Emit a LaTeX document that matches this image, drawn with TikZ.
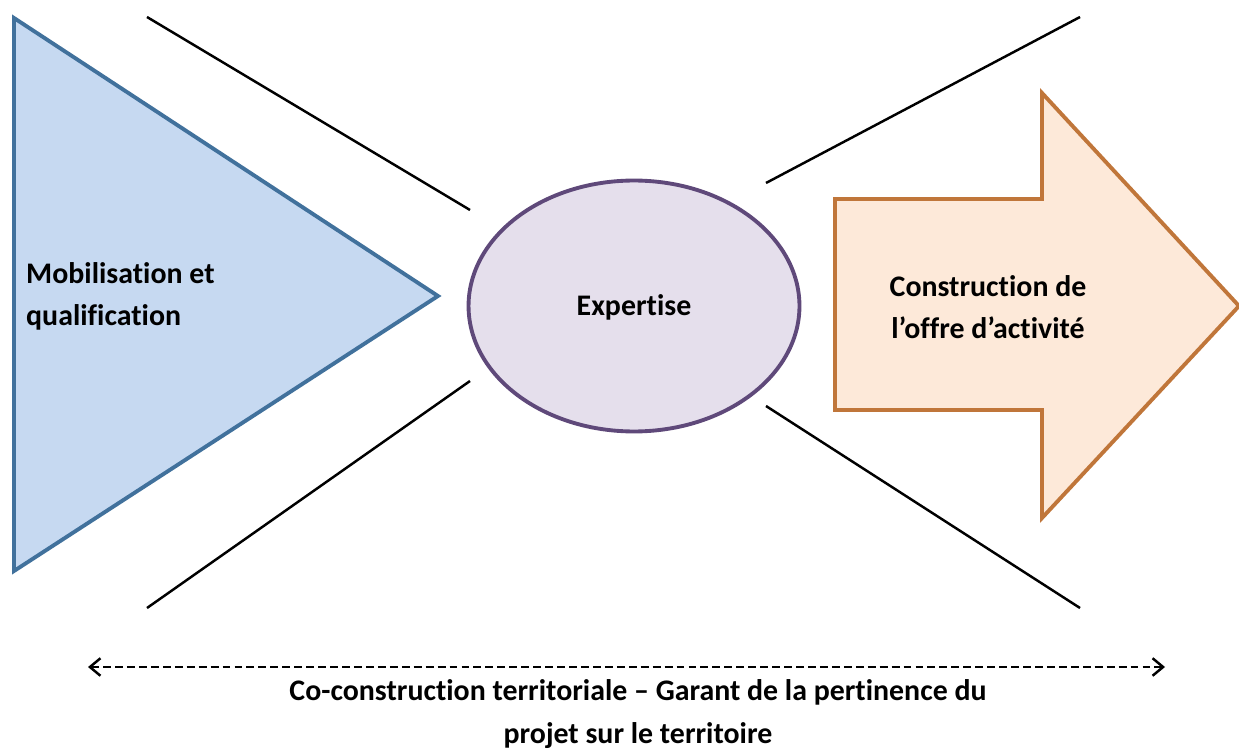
\documentclass[tikz,border=0pt]{standalone}
\usepackage{fontspec}
\setmainfont[Ligatures=NoCommon]{Carlito}
\usetikzlibrary{positioning,arrows.meta}
\definecolor{trifill}{HTML}{C6D9F1}
\definecolor{triedge}{HTML}{41719C}
\definecolor{ellfill}{HTML}{E5DFEC}
\definecolor{elledge}{HTML}{5F497A}
\definecolor{arrfill}{HTML}{FDE9D9}
\definecolor{arredge}{HTML}{C0763A}
\tikzset{
  label text/.style={font=\fontsize{17}{24}\selectfont\bfseries},
  shape line/.style={line width=2.2pt, line join=miter},
  funnel/.style={line width=1.4pt}
}
\begin{document}
\begin{tikzpicture}[x=0.02cm,y=-0.02cm]
        \useasboundingbox (0,0) rectangle (1239,749);
        \draw[shape line, draw=triedge, fill=trifill] (14,18) -- (438,296) -- (14,571) -- cycle;
        \draw[shape line, draw=elledge, fill=ellfill] (634,306) ellipse [x radius=3.31cm, y radius=2.51cm];
        \draw[shape line, draw=arredge, fill=arrfill] (835,199) -- (1042,199) -- (1042,93) -- (1239,306)
          -- (1042,518) -- (1042,410) -- (835,410) -- cycle;
        \coordinate (ulA) at (147,17);
        \coordinate (ulB) at (470,210);
        \coordinate (llA) at (147,608);
        \coordinate (llB) at (470,381);
        \coordinate (urA) at (766,183);
        \coordinate (urB) at (1080,17);
        \coordinate (lrA) at (766,406);
        \coordinate (lrB) at (1080,608);
        \draw[funnel] (ulA) -- (ulB);
        \draw[funnel] (llA) -- (llB);
        \draw[funnel] (urA) -- (urB);
        \draw[funnel] (lrA) -- (lrB);
        \node[label text, align=left, anchor=west] at (20,296) (mobil) {Mobilisation et\\qualification};
        \node[label text] at (634,307) (expert) {Expertise};
        \node[label text, align=center] at (988,307) (offre) {Construction de\\l’offre d’activité};
        \coordinate (gauche) at (88,667);
        \coordinate (droite) at (1165,667);
        \draw[{Straight Barb[length=6pt,width=10pt]}-{Straight Barb[length=6pt,width=10pt]}, funnel,
          dash pattern=on 4.5pt off 2.3pt] (gauche) -- (droite);
        \node[label text, align=center] at (638,714) (garant) {Co-construction territoriale – Garant de la pertinence du\\projet sur le territoire};
      \end{tikzpicture}
\end{document}
